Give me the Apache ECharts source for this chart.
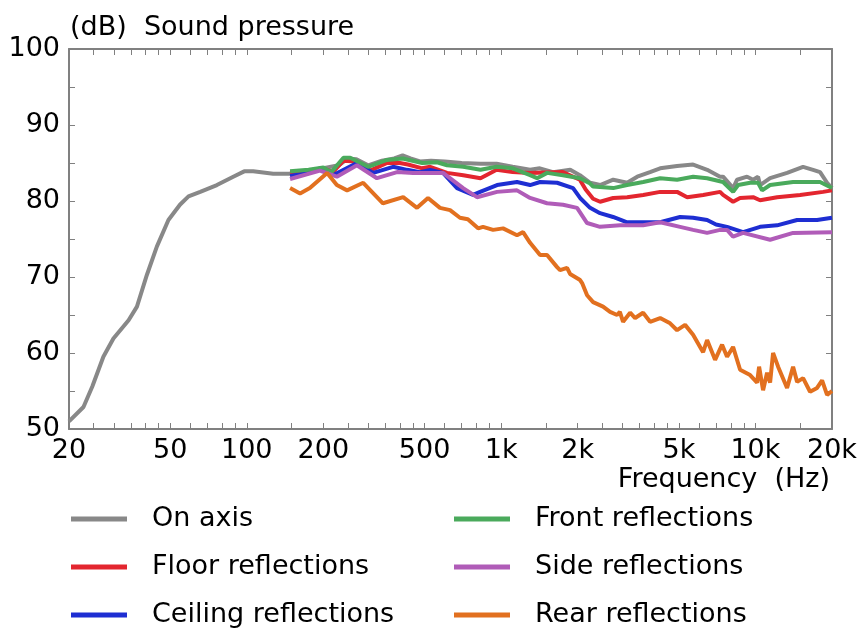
<!DOCTYPE html>
<html>
<head>
<meta charset="utf-8">
<script src="https://cdn.jsdelivr.net/npm/echarts@6/dist/echarts.min.js"></script>
<style>
html,body{margin:0;padding:0;background:#fff;}
#chart{width:866px;height:643px;}
</style>
</head>
<body>
<div id="chart"></div>
<script>
// ---- data (frequency in Hz, level in dB) ----
const onAxisFreq = [20,22.8,24.7,27.3,29.9,34.3,37,40.5,44.3,49.2,54.6,59,65.6,76.3,88.5,97.7,106,127,148,170,200,230,250,270,300,340,380,410,440,480,530,600,700,830,960,1110,1300,1420,1600,1870,2040,2240,2450,2760,3130,3430,3850,4220,4920,5690,6460,7260,7460,8170,8470,9270,9790,10240,10430,11420,13320,15390,16850,17950,19130,20000];
const onAxisDb = [51.0,52.9,55.6,59.5,61.9,64.3,66.1,70.3,74.0,77.5,79.5,80.6,81.2,82.1,83.2,83.9,83.9,83.6,83.6,83.9,84.3,84.7,85.6,85.5,84.7,85.3,85.6,86.0,85.6,85.2,85.3,85.2,85.0,84.9,84.9,84.5,84.1,84.3,83.8,84.1,83.4,82.4,82.1,82.8,82.4,83.2,83.8,84.3,84.6,84.8,84.1,83.2,83.2,81.7,82.8,83.2,82.8,83.2,82.1,83.0,83.7,84.5,84.1,83.8,82.4,81.7];

const floorFreq = [148,175,200,218,240,270,305,356,400,430,490,526,613,710,830,960,1110,1300,1750,2040,2150,2300,2450,2760,3130,3620,4220,4920,5390,6230,7260,7460,8170,8700,9790,10430,12170,14980,18450,20000];
const floorDb = [83.7,84.0,84.3,83.8,85.3,85.2,84.0,85.0,85.0,84.8,84.3,84.5,83.7,83.4,83.0,84.1,83.8,83.7,83.8,82.8,81.5,80.3,79.9,80.4,80.5,80.8,81.2,81.2,80.5,80.8,81.2,80.8,79.9,80.4,80.5,80.1,80.5,80.8,81.2,81.4];

const ceilingFreq = [148,175,194,218,271,314,376,427,480,526,591,671,776,827,964,1155,1300,1423,1660,1918,2044,2238,2449,2756,3130,4220,5054,5686,6456,7000,7735,8942,10430,12165,14580,17472,20000];
const ceilingDb = [83.3,83.7,84.3,83.4,85.0,83.7,84.5,84.1,83.8,84.1,83.7,81.7,80.8,81.2,82.1,82.5,82.1,82.5,82.4,81.7,80.4,79.1,78.4,77.9,77.2,77.2,77.9,77.8,77.5,76.9,76.6,75.9,76.6,76.8,77.5,77.5,77.8];

const frontFreq = [148,175,200,215,240,255,300,356,410,490,560,613,710,830,960,1110,1300,1385,1516,1750,2040,2240,2300,2760,3130,3620,4220,4920,5690,6460,7460,8170,8550,9530,10240,10620,11420,14060,17950,20000];
const frontDb = [83.9,84.1,84.4,83.8,85.7,85.7,84.5,85.4,85.6,85.0,85.1,84.7,84.5,84.1,84.5,84.3,83.4,83.0,83.7,83.4,83.0,82.3,81.9,81.7,82.1,82.5,83.0,82.8,83.2,83.0,82.5,81.2,82.1,82.4,82.4,81.4,82.1,82.5,82.5,81.7];

const sideFreq = [148,194,226,271,325,390,451,560,591,709,804,964,1155,1300,1516,1752,1989,2178,2449,2937,3617,4220,5054,5686,6456,7262,7735,8166,8942,11420,14061,20000];
const sideDb = [82.9,84.0,83.2,84.7,83.0,83.8,83.7,83.7,83.7,81.7,80.5,81.2,81.4,80.4,79.7,79.5,79.1,77.1,76.6,76.8,76.8,77.2,76.6,76.2,75.8,76.2,76.2,75.3,75.8,74.9,75.8,75.9];

const rearFreq = [148,162,177,207,226,248,287,343,412,467,516,575,630,689,740,812,849,930,1018,1155,1220,1300,1423,1516,1660,1705,1817,1867,2044,2082,2178,2300,2517,2682,2858,2930,3017,3216,3364,3617,3853,4220,4618,4920,5290,5686,6226,6456,6940,7393,7735,8166,8703,9528,10150,10336,10716,11112,11420,11732,12277,13317,14061,14580,15394,16400,17472,18284,19130,20000];
const rearDb = [81.7,81.0,81.7,83.7,82.1,81.4,82.4,79.7,80.5,79.1,80.4,79.1,78.8,77.8,77.6,76.4,76.6,76.2,76.4,75.5,75.9,74.5,72.9,72.9,71.3,70.9,71.2,70.4,69.6,69.2,67.6,66.7,66.1,65.4,65.0,65.4,64.1,65.3,64.6,65.3,64.1,64.6,63.9,63.0,63.7,62.4,60.1,61.7,59.1,61.1,59.5,60.8,57.8,57.1,56.1,58.2,55.1,57.4,56.1,60.0,58.2,55.4,58.2,56.2,56.7,54.9,55.4,56.4,54.5,55.0];

const seriesNames = ['On axis','Floor reflections','Ceiling reflections','Front reflections','Side reflections','Rear reflections'];

// ---- axis ticks / labels ----
const xTickFreqs = [20,25,30,35,40,45,50,60,70,80,90,100,150,200,250,300,350,400,450,500,600,700,800,900,1000,1500,2000,2500,3000,3500,4000,4500,5000,6000,7000,8000,9000,10000,15000,20000];
const xLabelFreqs = [20,50,100,200,500,1000,2000,5000,10000,20000];
const xLabelTexts = ['20','50','100','200','500','1k','2k','5k','10k','20k'];
const yTicks = [50,55,60,65,70,75,80,85,90,95,100];
const yLabels = [50,60,70,80,90,100];

const FONT = 'DejaVu Sans';
const FS = 27;
const AX = '#808080';
const lg = Math.log10;

const xTickVals = xTickFreqs.map(lg);
const xLabelVals = xLabelFreqs.map(lg);
function xFmt(v){
  let best = 0, d = Infinity;
  xLabelVals.forEach((lv,i)=>{ const dd = Math.abs(lv - v); if (dd < d){ d = dd; best = i; } });
  return xLabelTexts[best];
}
const toPts = (fs, ds) => fs.map((f,i)=>[lg(f), ds[i]]);

const colors = ['#888888','#e3262f','#1e2ed2','#4aaa5c','#b05cb8','#e2701f'];
const datas = [
  toPts(onAxisFreq,onAxisDb), toPts(floorFreq,floorDb), toPts(ceilingFreq,ceilingDb),
  toPts(frontFreq,frontDb), toPts(sideFreq,sideDb), toPts(rearFreq,rearDb)
];

const chart = echarts.init(document.getElementById('chart'), null, {renderer:'canvas'});
const xBase = {
  type:'value', min: lg(20), max: lg(20000),
  axisLine:{show:true, lineStyle:{color:AX, width:2}},
  axisTick:{show:true, inside:true, length:6, lineStyle:{color:AX, width:1}, customValues: xTickVals},
  splitLine:{show:false}
};
const yBase = {
  type:'value', min:50, max:100,
  axisLine:{show:true, lineStyle:{color:AX, width:2}},
  axisTick:{show:true, inside:true, length:6, lineStyle:{color:AX, width:1}, customValues: yTicks},
  splitLine:{show:false}
};
const legendText = {fontFamily:FONT, fontSize:FS, color:'#000', lineHeight:30, padding:[0,0,0,20]};
const legendCommon = {orient:'vertical', top:499, itemWidth:56, itemHeight:5, itemGap:18,
  icon:'rect', selectedMode:false, textStyle:legendText, lineStyle:{width:5, cap:'butt'}};
const option = {
  animation:false,
  backgroundColor:'#fff',
  title:[
    {text:'(dB)  Sound pressure', left:65, top:9, textStyle:{fontFamily:FONT, fontSize:FS, fontWeight:'normal', color:'#000'}},
    {text:'Frequency  (Hz)', right:31, top:461, textStyle:{fontFamily:FONT, fontSize:FS, fontWeight:'normal', color:'#000'}}
  ],
  grid:{left:69, right:34, top:49, bottom:214, containLabel:false, outerBoundsMode:'none'},
  xAxis:[
    Object.assign({}, xBase, {position:'bottom',
      axisLabel:{show:true, customValues:xLabelVals, formatter:xFmt, margin:8, fontFamily:FONT, fontSize:FS, color:'#000'}}),
    Object.assign({}, xBase, {position:'top', axisLabel:{show:false}})
  ],
  yAxis:[
    Object.assign({}, yBase, {position:'left',
      axisLabel:{show:true, customValues:yLabels, margin:9, fontFamily:FONT, fontSize:FS, color:'#000'}}),
    Object.assign({}, yBase, {position:'right', axisLabel:{show:false}})
  ],
  legend:[
    Object.assign({data:seriesNames.slice(0,3), left:66}, legendCommon),
    Object.assign({data:seriesNames.slice(3), left:449}, legendCommon)
  ],
  series: seriesNames.map((n,i)=>({
    name:n, type:'line', data:datas[i], showSymbol:false, symbol:'none', smooth:false,
    lineStyle:{color:colors[i], width:4}, itemStyle:{color:colors[i]}, z:2+i, clip:true
  }))
};
chart.setOption(option);
</script>
</body>
</html>
